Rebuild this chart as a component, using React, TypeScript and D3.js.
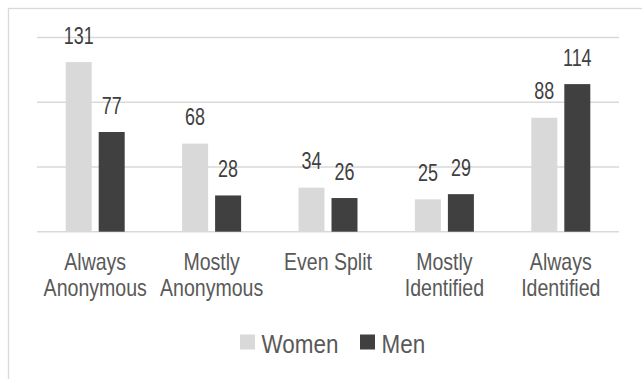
import React from "react";
import * as d3 from "d3";

const categories: string[][] = [
  ["Always", "Anonymous"],
  ["Mostly", "Anonymous"],
  ["Even Split"],
  ["Mostly", "Identified"],
  ["Always", "Identified"],
];
const seriesNames = ["Women", "Men"];
const women = [131, 68, 34, 25, 88];
const men = [77, 28, 26, 29, 114];
const yTicks = [0, 50, 100, 150];
const colors = ["#d9d9d9", "#404040"];

const W = 642;
const H = 379;
const FONT = "'Liberation Sans', Arial, sans-serif";

function SText({ x, y, size, sx, anchor = "middle", fill, children }: any) {
  return (
    <text
      transform={`translate(${x},${y}) scale(${sx},1)`}
      fontSize={size}
      fontFamily={FONT}
      textAnchor={anchor}
      fill={fill}
    >
      {children}
    </text>
  );
}

export default function App() {
  const keys = categories.map((c) => c.join(" "));
  const x0 = d3
    .scaleBand<string>()
    .domain(keys)
    .range([37, 619])
    .paddingInner(57.4 / 116.4)
    .paddingOuter(57.4 / 116.4 / 2);
  const x1 = d3
    .scaleBand<string>()
    .domain(seriesNames)
    .range([0, x0.bandwidth()])
    .paddingInner(7 / 33)
    .paddingOuter(0);
  const y = d3.scaleLinear().domain([0, 150]).range([231.7, 37.5]);
  const data = [women, men];

  return (
    <svg
      width={W}
      height={H}
      style={{ position: "absolute", left: 0, top: 0, background: "#fff" }}
    >
      <rect x={8.5} y={8.5} width={800} height={500} fill="#fff" stroke="#d9d9d9" strokeWidth={1.3} />
      {yTicks.map((t) => (
        <line key={t} x1={37} x2={619} y1={y(t)} y2={y(t)} stroke="#d9d9d9" strokeWidth={1.5} />
      ))}
      {keys.map((k, ci) =>
        seriesNames.map((s, si) => {
          const v = data[si][ci];
          const bx = (x0(k) as number) + (x1(s) as number);
          return (
            <g key={k + s}>
              <rect x={bx} y={y(v)} width={x1.bandwidth()} height={y(0) - y(v)} fill={colors[si]} />
              <SText x={bx + x1.bandwidth() / 2} y={y(v) - 18.5} size={23} sx={0.78} fill="#404040">
                {v}
              </SText>
            </g>
          );
        })
      )}
      {categories.map((lines, ci) => {
        const cx = (x0(keys[ci]) as number) + x0.bandwidth() / 2;
        return lines.map((ln, li) => (
          <SText key={ci + "-" + li} x={cx} y={270 + li * 25.5} size={23} sx={0.85} fill="#595959">
            {ln}
          </SText>
        ));
      })}
      {seriesNames.map((s, si) => {
        const lx = [240, 360][si];
        return (
          <g key={s}>
            <rect x={lx} y={334.5} width={15} height={15} fill={colors[si]} />
            <SText x={lx + 21.5} y={352.5} size={25.5} sx={0.88} anchor="start" fill="#595959">
              {s}
            </SText>
          </g>
        );
      })}
    </svg>
  );
}
